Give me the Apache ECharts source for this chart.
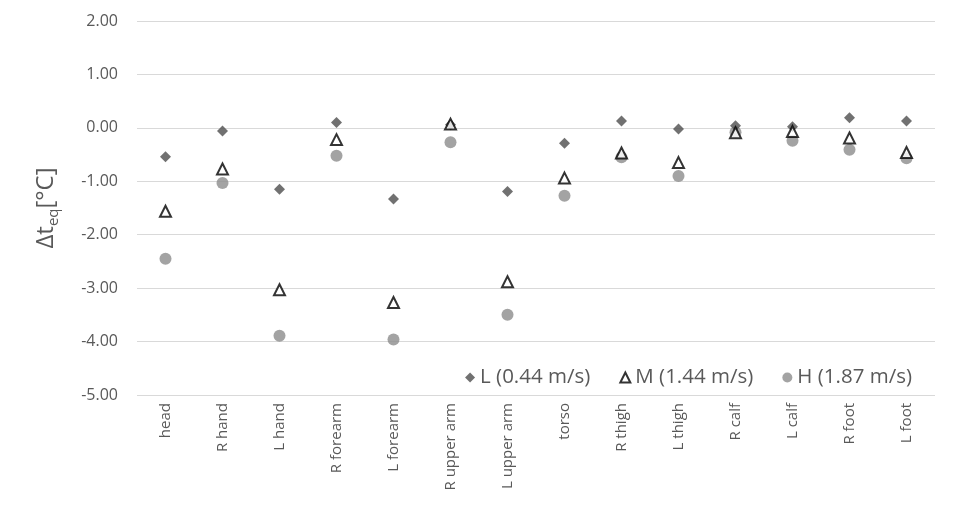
<!DOCTYPE html>
<html><head><meta charset="utf-8">
<script src="https://cdn.jsdelivr.net/npm/echarts@6/dist/echarts.min.js"></script>
<style>html,body{margin:0;padding:0;background:#fff}#c{width:958px;height:529px}</style>
</head><body><div id="c"></div>
<script>
var categories = ['head','R hand','L hand','R forearm','L forearm','R upper arm','L upper arm','torso','R thigh','L thigh','R calf','L calf','R foot','L foot'];
var seriesL = [-0.54,-0.06,-1.15,0.10,-1.33,0.06,-1.19,-0.29,0.13,-0.02,0.04,0.02,0.19,0.13];
var seriesM = [-1.56,-0.77,-3.03,-0.22,-3.27,0.07,-2.88,-0.94,-0.47,-0.65,-0.09,-0.07,-0.19,-0.46];
var seriesH = [-2.45,-1.03,-3.89,-0.52,-3.96,-0.27,-3.50,-1.27,-0.55,-0.90,-0.08,-0.24,-0.41,-0.57];
var names = ['L (0.44 m/s)','M (1.44 m/s)','H (1.87 m/s)'];

var chart = echarts.init(document.getElementById('c'), null, {renderer:'canvas'});
var font = 'Open Sans, Liberation Sans, sans-serif';
chart.setOption({
  animation:false,
  backgroundColor:'#fff',
  grid:{left:137,right:23,top:21,bottom:134},
  legend:{
    right:41, top:362, itemGap:29, itemWidth:10, itemHeight:10,
    textStyle:{fontSize:20.5,color:'#595959',fontFamily:font},
    data:[
      {name:names[0],icon:'diamond'},
      {name:names[1],icon:'triangle'},
      {name:names[2],icon:'circle'}
    ]
  },
  xAxis:{
    type:'category', data:categories, boundaryGap:true,
    axisLine:{show:false}, axisTick:{show:false},
    axisLabel:{rotate:90, fontSize:15, color:'#595959', fontFamily:font, margin:8}
  },
  yAxis:{
    type:'value', min:-5, max:2, interval:1,
    name:'{a|Δt}{b|eq}{a|[°C]}', nameLocation:'middle', nameGap:76, nameRotate:90,
    nameTextStyle:{rich:{
      a:{fontSize:24,color:'#595959',fontFamily:font,lineHeight:30},
      b:{fontSize:15,color:'#595959',fontFamily:font,lineHeight:30,verticalAlign:'bottom',padding:[12,0,0,0]}
    }},
    axisLine:{show:false}, axisTick:{show:false},
    axisLabel:{formatter:function(v){return v.toFixed(2);}, fontSize:16, color:'#595959', fontFamily:font, margin:19},
    splitLine:{lineStyle:{color:'#d9d9d9',width:1}}
  },
  series:[
    {name:names[0],type:'scatter',data:seriesL,symbol:'diamond',symbolSize:11,
      itemStyle:{color:'#4d4d4d'},z:3},
    {name:names[1],type:'scatter',data:seriesM,symbol:'triangle',symbolSize:11,
      itemStyle:{color:'#ffffff',borderColor:'#000000',borderWidth:2},z:4},
    {name:names[2],type:'scatter',data:seriesH,symbol:'circle',symbolSize:12,
      itemStyle:{color:'#8c8c8c'},z:2}
  ]
});
</script></body></html>
